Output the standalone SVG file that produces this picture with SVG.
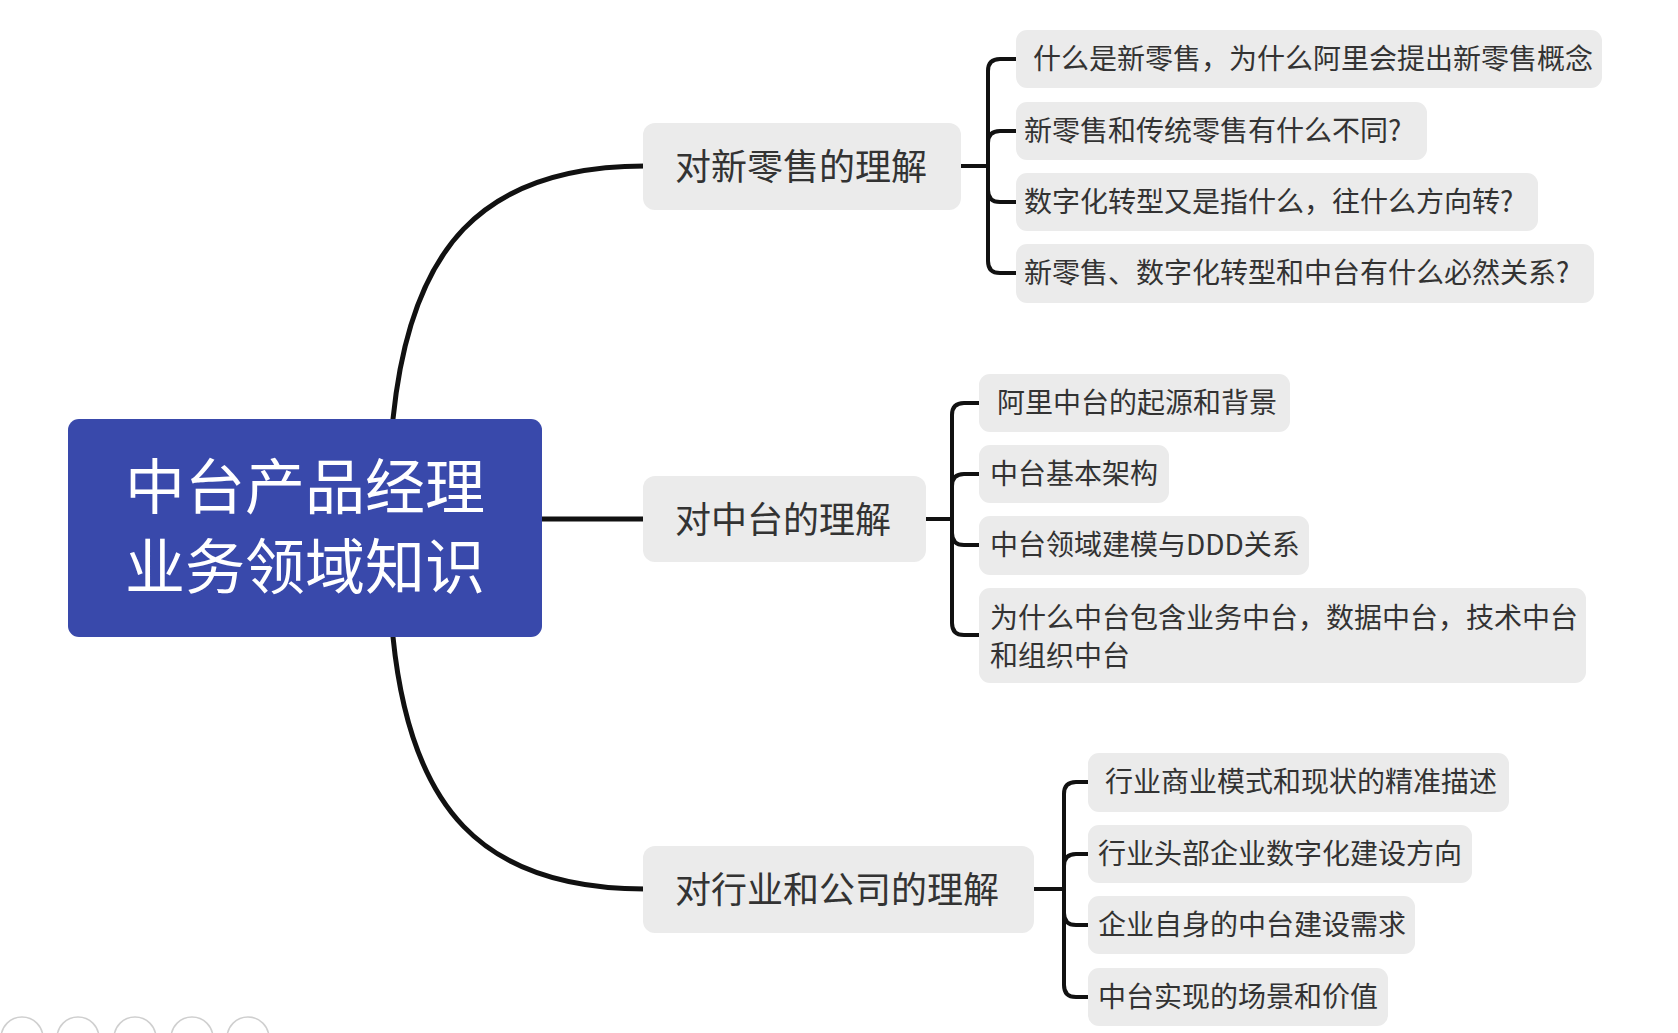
<svg xmlns="http://www.w3.org/2000/svg" width="1678" height="1033" viewBox="0 0 1678 1033">
<style>
.bg{fill:#ffffff}
.root{fill:#3949ab}
.rt{fill:#ffffff;font-family:"Noto Sans CJK SC","Liberation Sans",sans-serif;font-size:60px;dominant-baseline:central}
.l1{fill:#ebebeb}
.l1t{fill:#333333;font-family:"Noto Sans CJK SC","Liberation Sans",sans-serif;font-size:36px;dominant-baseline:central}
.l2{fill:#ebebeb}
.l2t{fill:#333333;font-family:"Noto Sans CJK SC","Liberation Sans",sans-serif;font-size:28px;dominant-baseline:central}
.main{fill:none;stroke:#111111;stroke-width:5;stroke-linecap:round}
.br{fill:none;stroke:#111111;stroke-width:4;stroke-linecap:butt;stroke-linejoin:round}
.ic{fill:none;stroke:#cfcfcf;stroke-width:1.5}
</style>
<rect class="bg" x="0" y="0" width="1678" height="1033"/>
<g id="connectors">
<path class="main" d="M 393 440 L 393 419 C 410 250 480 166 645 166"/>
<path class="main" d="M 530 519 L 645 519"/>
<path class="main" d="M 393 620 L 393 637 C 410 806 480 889 645 889"/>
<path class="br" d="M 961 166 H 988"/>
<path class="br" d="M 988 202 V 71 Q 988 59 1000 59 H 1016"/>
<path class="br" d="M 988 143 Q 988 131 1000 131 H 1016"/>
<path class="br" d="M 988 130 V 261 Q 988 273 1000 273 H 1016"/>
<path class="br" d="M 988 190 Q 988 202 1000 202 H 1016"/>
<path class="br" d="M 924 519 H 952"/>
<path class="br" d="M 952 530 V 415 Q 952 403 964 403 H 979"/>
<path class="br" d="M 952 486 Q 952 474 964 474 H 979"/>
<path class="br" d="M 952 500 V 623 Q 952 635 964 635 H 979"/>
<path class="br" d="M 952 533 Q 952 545 964 545 H 979"/>
<path class="br" d="M 1034 889 H 1064"/>
<path class="br" d="M 1064 900 V 794 Q 1064 782 1076 782 H 1088"/>
<path class="br" d="M 1064 866 Q 1064 854 1076 854 H 1088"/>
<path class="br" d="M 1064 880 V 985 Q 1064 997 1076 997 H 1088"/>
<path class="br" d="M 1064 913 Q 1064 925 1076 925 H 1088"/>
</g>
<g id="root">
<rect class="root" x="68" y="419" width="474" height="218" rx="11"/>
<text class="rt" x="305" y="482" text-anchor="middle">中台产品经理</text>
<text class="rt" x="305" y="562" text-anchor="middle">业务领域知识</text>
</g>
<g id="n1">
<rect class="l1" x="643" y="123" width="318" height="87" rx="12"/>
<text class="l1t" x="675" y="164">对新零售的理解</text>
</g>
<g id="n1a">
<rect class="l2" x="1016" y="30" width="586" height="58" rx="11"/>
<text class="l2t" x="1033" y="57">什么是新零售，为什么阿里会提出新零售概念</text>
</g>
<g id="n1b">
<rect class="l2" x="1016" y="102" width="411" height="58" rx="11"/>
<text class="l2t" x="1024" y="129">新零售和传统零售有什么不同?</text>
</g>
<g id="n1c">
<rect class="l2" x="1016" y="173" width="522" height="58" rx="11"/>
<text class="l2t" x="1024" y="200">数字化转型又是指什么，往什么方向转?</text>
</g>
<g id="n1d">
<rect class="l2" x="1016" y="244" width="578" height="59" rx="11"/>
<text class="l2t" x="1024" y="271">新零售、数字化转型和中台有什么必然关系?</text>
</g>
<g id="n2">
<rect class="l1" x="643" y="476" width="283" height="86" rx="12"/>
<text class="l1t" x="675" y="517">对中台的理解</text>
</g>
<g id="n2a">
<rect class="l2" x="979" y="374" width="311" height="58" rx="11"/>
<text class="l2t" x="997" y="401">阿里中台的起源和背景</text>
</g>
<g id="n2b">
<rect class="l2" x="979" y="445" width="190" height="58" rx="11"/>
<text class="l2t" x="990" y="472">中台基本架构</text>
</g>
<g id="n2c">
<rect class="l2" x="979" y="516" width="330" height="59" rx="11"/>
<text class="l2t" x="990" y="543">中台领域建模与DDD关系</text>
</g>
<g id="n2d">
<rect class="l2" x="979" y="588" width="607" height="95" rx="11"/>
<text class="l2t" x="990" y="616">为什么中台包含业务中台，数据中台，技术中台</text>
<text class="l2t" x="990" y="654">和组织中台</text>
</g>
<g id="n3">
<rect class="l1" x="643" y="846" width="391" height="87" rx="12"/>
<text class="l1t" x="675" y="887">对行业和公司的理解</text>
</g>
<g id="n3a">
<rect class="l2" x="1088" y="753" width="421" height="59" rx="11"/>
<text class="l2t" x="1105" y="780">行业商业模式和现状的精准描述</text>
</g>
<g id="n3b">
<rect class="l2" x="1088" y="825" width="384" height="58" rx="11"/>
<text class="l2t" x="1098" y="852">行业头部企业数字化建设方向</text>
</g>
<g id="n3c">
<rect class="l2" x="1088" y="896" width="327" height="58" rx="11"/>
<text class="l2t" x="1098" y="923">企业自身的中台建设需求</text>
</g>
<g id="n3d">
<rect class="l2" x="1088" y="968" width="300" height="58" rx="11"/>
<text class="l2t" x="1098" y="995">中台实现的场景和价值</text>
</g>
<g id="controls">
<circle class="ic" cx="22" cy="1038" r="21"/>
<circle class="ic" cx="78" cy="1038" r="21"/>
<circle class="ic" cx="135" cy="1038" r="21"/>
<circle class="ic" cx="192" cy="1038" r="21"/>
<circle class="ic" cx="248" cy="1038" r="21"/>
</g>
</svg>
